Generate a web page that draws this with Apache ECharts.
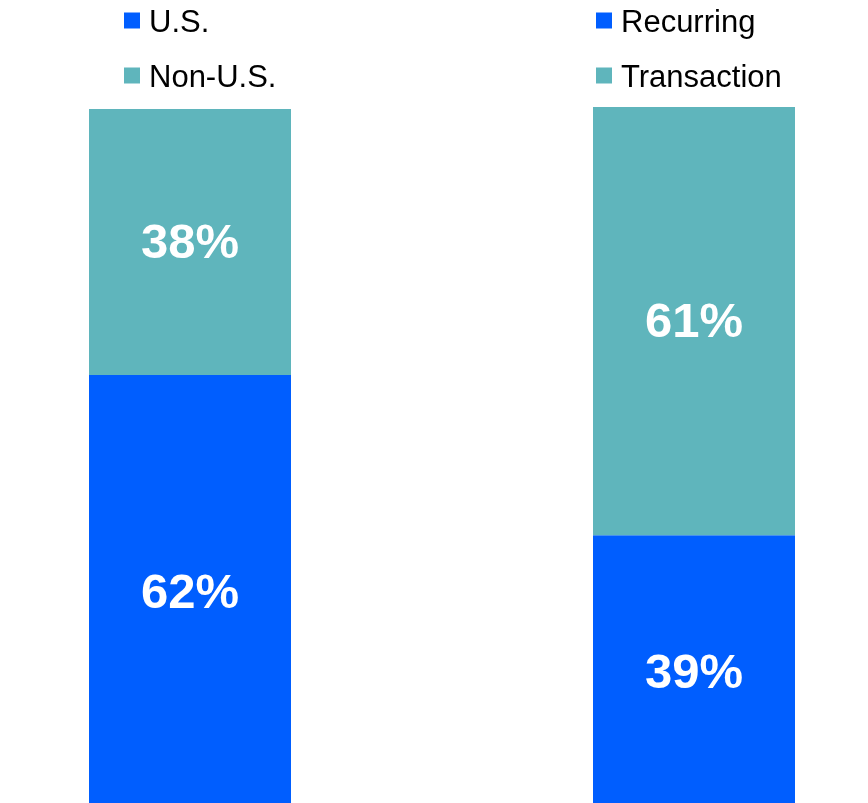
<!DOCTYPE html>
<html><head><meta charset="utf-8">
<script src="https://cdn.jsdelivr.net/npm/echarts@6/dist/echarts.min.js"></script>
<style>html,body{margin:0;padding:0;background:#fff;overflow:hidden}#c{width:868px;height:830px}</style>
</head><body><div id="c"></div>
<script>
const leftCats = ['Geography'];
const usVals = [62];
const nonUsVals = [38];
const rightCats = ['Revenue type'];
const recurringVals = [39];
const transactionVals = [61];
const BLUE = '#005EFF', TEAL = '#5FB5BC';
const chart = echarts.init(document.getElementById('c'));
const lbl = {show:true, position:'inside', offset:[0,2], color:'#fff', fontFamily:'Liberation Sans, Arial, sans-serif', fontWeight:'bold', fontSize:49, formatter: p => p.value + '%'};
const legText = {fontFamily:'Liberation Sans, Arial, sans-serif', fontSize:31, color:'#000',
  rich:{t:{fontFamily:'Liberation Sans, Arial, sans-serif', fontSize:31, color:'#000', lineHeight:30, padding:[6,0,0,4]}}};
const legFmt = name => '{t|' + name + '}';
chart.setOption({
  animation:false,
  legend:[
    {orient:'vertical', left:124, top:2, padding:0, itemWidth:16, itemHeight:16, itemGap:18, icon:'rect', data:['U.S.','Non-U.S.'], formatter:legFmt, textStyle:legText, selectedMode:false},
    {orient:'vertical', left:596, top:2, padding:0, itemWidth:16, itemHeight:16, itemGap:18, icon:'rect', data:['Recurring','Transaction'], formatter:legFmt, textStyle:legText, selectedMode:false}
  ],
  grid:[
    {left:89, width:202, top:109, height:700},
    {left:593, width:202, top:107, height:702}
  ],
  xAxis:[
    {type:'category', gridIndex:0, data:leftCats, show:false},
    {type:'category', gridIndex:1, data:rightCats, show:false}
  ],
  yAxis:[
    {type:'value', gridIndex:0, min:0, max:100, show:false},
    {type:'value', gridIndex:1, min:0, max:100, show:false}
  ],
  series:[
    {name:'U.S.', type:'bar', stack:'a', xAxisIndex:0, yAxisIndex:0, barWidth:'100%', data:usVals, itemStyle:{color:BLUE}, label:lbl},
    {name:'Non-U.S.', type:'bar', stack:'a', xAxisIndex:0, yAxisIndex:0, barWidth:'100%', data:nonUsVals, itemStyle:{color:TEAL}, label:lbl},
    {name:'Recurring', type:'bar', stack:'b', xAxisIndex:1, yAxisIndex:1, barWidth:'100%', data:recurringVals, itemStyle:{color:BLUE}, label:lbl},
    {name:'Transaction', type:'bar', stack:'b', xAxisIndex:1, yAxisIndex:1, barWidth:'100%', data:transactionVals, itemStyle:{color:TEAL}, label:lbl}
  ]
});
</script></body></html>
